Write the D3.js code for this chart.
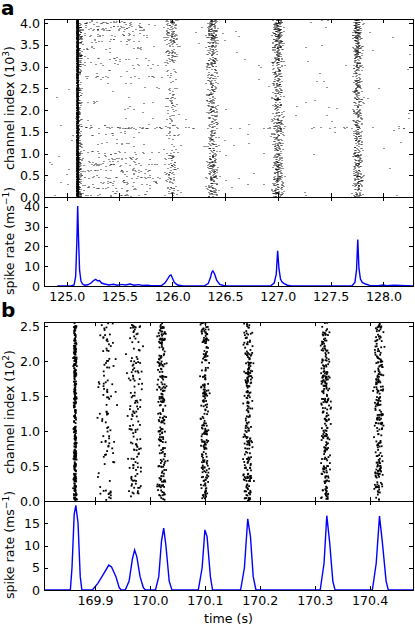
<!DOCTYPE html>
<html lang="en">
<head>
<meta charset="UTF-8"/>
<title>Spike raster and rate</title>
<script src="https://d3js.org/d3.v7.min.js"></script>
<style>
  body { margin: 0; background: #fff; }
  text { font-family: "DejaVu Sans", sans-serif; }
  .frame { fill: none; stroke: #000; stroke-width: 1; shape-rendering: crispEdges; }
  .tick line { shape-rendering: crispEdges; }
  path.rate { fill: none; stroke: #0000ff; stroke-width: 1.4; }
</style>
</head>
<body>
<script>
// ---------- panel a: population bursts (times in s, channels in 10^3) ----------
var burstTimesA  = [125.104, 125.125, 125.992, 126.38, 127.0, 127.757];
var burstSpreadA = [0.004, 0.012, 0.028, 0.026, 0.024, 0.022];
// spikes per channel band (8 bands of 0.512 x10^3, bottom to top), read by eye
var burstBandsA = [
  [300, 300, 220, 220, 200, 200, 260, 300],
  [50, 50, 25, 25, 25, 25, 35, 45],
  [35, 45, 15, 20, 30, 12, 50, 85],
  [80, 80, 55, 55, 60, 55, 80, 110],
  [95, 90, 70, 70, 70, 70, 100, 130],
  [85, 80, 65, 65, 65, 65, 90, 115]
];
// sparse activity after the first burst
var diffuseWindowA = [125.14, 125.8];
var diffuseBandsA = [45, 50, 10, 8, 6, 6, 20, 50];
// channels firing repeatedly: [channel (10^3), t start, t end, spikes]
var tonicRowsA = [
  [4.02, 125.15, 125.75, 18], [3.93, 125.2, 125.7, 12], [3.85, 125.15, 125.8, 15],
  [3.72, 125.15, 125.6, 10], [3.62, 125.2, 125.7, 8], [3.43, 125.15, 125.8, 10],
  [3.20, 125.15, 125.5, 6], [3.05, 125.15, 125.9, 12], [2.77, 125.15, 126.0, 16],
  [2.20, 125.2, 125.4, 4], [1.60, 125.15, 126.05, 40], [1.60, 126.1, 128.2, 25],
  [1.47, 125.2, 125.6, 6], [1.24, 125.2, 125.8, 8], [1.04, 125.15, 125.9, 12],
  [0.90, 125.3, 125.7, 8], [0.75, 125.15, 125.9, 16], [0.62, 125.15, 125.9, 18],
  [0.45, 125.2, 125.9, 16], [0.35, 125.2, 125.9, 14], [0.22, 125.2, 125.8, 12],
  [0.05, 125.2, 125.6, 8]
];
var backgroundCountA = 150;

// ---------- panel a: spike rate (ms^-1) ----------
var rateA = [
  [124.91, 0], [125.04, 0], [125.07, 0.5], [125.085, 5], [125.096, 22], [125.104, 40.5],
  [125.112, 24], [125.122, 8], [125.135, 2.5], [125.15, 1], [125.17, 0.4], [125.2, 0.6],
  [125.23, 1.5], [125.255, 2.8], [125.275, 3.4], [125.29, 2.6], [125.31, 2.8], [125.33, 1.5],
  [125.36, 1.0], [125.4, 0.5], [125.44, 0.9], [125.48, 0.4], [125.52, 0.8], [125.56, 0.5],
  [125.6, 1.0], [125.64, 0.4], [125.68, 0.7], [125.72, 0.3], [125.76, 0.4], [125.8, 0.2],
  [125.85, 0.1], [125.9, 0.3], [125.93, 1.5], [125.955, 3.5], [125.975, 5.2], [125.988, 5.6],
  [126.0, 4.2], [126.02, 1.8], [126.05, 0.5], [126.1, 0], [126.3, 0], [126.34, 1.2],
  [126.36, 4.0], [126.375, 7.0], [126.385, 7.6], [126.4, 6.2], [126.42, 3.0], [126.45, 0.8],
  [126.5, 0], [126.93, 0], [126.965, 1.5], [126.985, 6], [126.998, 17.8], [127.01, 9],
  [127.025, 3.5], [127.04, 2.0], [127.06, 1.2], [127.09, 0.4], [127.13, 0], [127.7, 0],
  [127.73, 1.8], [127.745, 8], [127.757, 23.5], [127.768, 9], [127.782, 3.5], [127.8, 1.8],
  [127.83, 1.0], [127.87, 0.3], [127.95, 0.2], [128.0, 0.5], [128.03, 0.1], [128.1, 0.4],
  [128.28, 0]
];

// ---------- panel b: bursts (channels in 10^2) ----------
var burstTimesB  = [169.8636, 169.9218, 169.9727, 170.0218, 170.1, 170.1782, 170.32, 170.4164];
var burstSpreadB = [0.0014, 0.0075, 0.006, 0.0038, 0.0036, 0.004, 0.004, 0.004];
var burstCountB  = [320, 100, 140, 220, 220, 230, 230, 230];

// ---------- panel b: spike rate ----------
var rateB = [
  [169.807, 0], [169.855, 0], [169.858, 5], [169.862, 17], [169.865, 19], [169.869, 15],
  [169.873, 3], [169.876, 0], [169.895, 0], [169.905, 1.5], [169.915, 3.5], [169.925, 5.6],
  [169.93, 5.2], [169.938, 3], [169.944, 0.5], [169.948, 0], [169.955, 0], [169.962, 2],
  [169.968, 7], [169.972, 9], [169.976, 7.5], [169.982, 3], [169.988, 0.5], [169.992, 0],
  [170.01, 0], [170.016, 3], [170.021, 11], [170.025, 13.9], [170.029, 10], [170.035, 2],
  [170.04, 0], [170.088, 0], [170.095, 5], [170.1, 13.5], [170.104, 12], [170.11, 3],
  [170.114, 0], [170.165, 0], [170.172, 5], [170.178, 16], [170.183, 12], [170.188, 3],
  [170.193, 0], [170.31, 0], [170.317, 6], [170.322, 16.7], [170.327, 11], [170.333, 2],
  [170.337, 0], [170.405, 0], [170.412, 6], [170.418, 16.6], [170.423, 11], [170.43, 2],
  [170.434, 0], [170.479, 0]
];

var xTicksA = [125.0, 125.5, 126.0, 126.5, 127.0, 127.5, 128.0];
var rasterTicksA = [0, 0.5, 1.0, 1.5, 2.0, 2.5, 3.0, 3.5, 4.0];
var rateTicksA = [0, 10, 20, 30, 40];
var xTicksB = [169.9, 170.0, 170.1, 170.2, 170.3, 170.4];
var rasterTicksB = [0, 0.5, 1.0, 1.5, 2.0, 2.5];
var rateTicksB = [0, 5, 10, 15];

// ---------- scales ----------
var xA = d3.scaleLinear().domain([124.785, 128.28]).range([44, 413]);
var yRasterA = d3.scaleLinear().domain([0, 4.096]).range([197, 19]);
var yRateA = d3.scaleLinear().domain([0, 45]).range([286, 197]);
var xB = d3.scaleLinear().domain([169.807, 170.479]).range([44, 413]);
var yRasterB = d3.scaleLinear().domain([0, 2.56]).range([501, 322]);
var yRateB = d3.scaleLinear().domain([0, 20]).range([590, 501]);

var svg = d3.select("body").append("svg")
    .attr("width", 415).attr("height", 626);

// fixed integer hash (murmur finaliser), only used to scatter the dots
// inside the bands that were read off the picture; same output every run
var seq = 1;
function hash(i, d) {
    var h = (Math.imul(i, 0x9E3779B1) + Math.imul(d + 1, 0x632BE5AB)) | 0;
    h ^= h >>> 16; h = Math.imul(h, 0x85ebca6b);
    h ^= h >>> 13; h = Math.imul(h, 0xc2b2ae35);
    h ^= h >>> 16;
    return (h >>> 0) / 4294967296;
}
function next() {
    var i = seq++;
    return {
        u: hash(i, 1),
        g: (hash(i, 2) + hash(i, 3) + hash(i, 4) - 1.5) * 2,
        w: hash(i, 5)
    };
}

// build spike lists
var spikesA = [];
burstTimesA.forEach(function (t0, k) {
    burstBandsA[k].forEach(function (n, j) {
        for (var s = 0; s < n; s++) {
            var h = next();
            spikesA.push([t0 + burstSpreadA[k] * h.g, (j + h.u) * 0.512]);
        }
    });
});
diffuseBandsA.forEach(function (n, j) {
    for (var s = 0; s < n; s++) {
        var h = next();
        spikesA.push([diffuseWindowA[0] + h.w * (diffuseWindowA[1] - diffuseWindowA[0]), (j + h.u) * 0.512]);
    }
});
tonicRowsA.forEach(function (r) {
    for (var s = 0; s < r[3]; s++) {
        var h = next();
        spikesA.push([r[1] + h.w * (r[2] - r[1]), r[0] + 0.012 * h.g]);
    }
});
for (var s = 0; s < backgroundCountA; s++) {
    var h = next();
    spikesA.push([124.79 + h.w * 3.48, h.u * 4.09]);
}

var spikesB = [];
burstTimesB.forEach(function (t0, k) {
    for (var s = 0; s < burstCountB[k]; s++) {
        var h = next();
        spikesB.push([t0 + burstSpreadB[k] * h.g, h.u * 2.55]);
    }
});

// ---------- drawing helpers ----------
function frame(x, y, xt, yt, xfmt, yfmt) {
    var g = svg.append("g");
    var xr = x.range(), yr = y.range();
    var bottom = g.append("g").attr("transform", "translate(0," + yr[0] + ")")
        .call(d3.axisBottom(x).tickValues(xt).tickSizeInner(-4).tickSizeOuter(0)
            .tickPadding(6).tickFormat(xfmt || ""));
    var top = g.append("g").attr("transform", "translate(0," + yr[1] + ")")
        .call(d3.axisTop(x).tickValues(xt).tickSizeInner(-4).tickSizeOuter(0).tickFormat(""));
    var left = g.append("g").attr("transform", "translate(" + xr[0] + ",0)")
        .call(d3.axisLeft(y).tickValues(yt).tickSizeInner(-4).tickSizeOuter(0)
            .tickPadding(4).tickFormat(yfmt));
    var right = g.append("g").attr("transform", "translate(" + xr[1] + ",0)")
        .call(d3.axisRight(y).tickValues(yt).tickSizeInner(-4).tickSizeOuter(0).tickFormat(""));
    [bottom, top, left, right].forEach(function (a) {
        a.attr("font-size", 12.6).attr("font-family", "DejaVu Sans");
        a.select(".domain").remove();
        a.selectAll("text").attr("fill", "#000");
    });
    g.append("rect").attr("class", "frame")
        .attr("x", xr[0] + 0.5).attr("y", yr[1] + 0.5)
        .attr("width", xr[1] - xr[0]).attr("height", yr[0] - yr[1]);
}

function clip(id, x, y) {
    svg.append("clipPath").attr("id", id).append("rect")
        .attr("x", x.range()[0]).attr("y", y.range()[1])
        .attr("width", x.range()[1] - x.range()[0]).attr("height", y.range()[0] - y.range()[1]);
}

function yLabel(text, sup, cy) {
    var t = svg.append("text")
        .attr("transform", "translate(14," + cy + ") rotate(-90)")
        .attr("text-anchor", "middle").attr("font-size", 12.6);
    t.append("tspan").text(text);
    t.append("tspan").attr("dy", -5).attr("font-size", 9).text(sup);
    t.append("tspan").attr("dy", 5).text(")");
}

var f1 = d3.format(".1f"), f0 = d3.format("d");
var line = function (x, y) {
    return d3.line().x(function (d) { return x(d[0]); }).y(function (d) { return y(d[1]); });
};

// ---------- panel a ----------
clip("ca1", xA, yRasterA);
svg.append("g").attr("clip-path", "url(#ca1)")
    .selectAll("rect").data(spikesA).enter().append("rect")
    .attr("x", function (d) { return Math.round(xA(d[0])) - 1; })
    .attr("y", function (d) { return Math.round(yRasterA(d[1])); })
    .attr("width", 2).attr("height", 1)
    .attr("fill", "#000").attr("fill-opacity", 0.42);
frame(xA, yRasterA, xTicksA, rasterTicksA, null, f1);

clip("ca2", xA, yRateA);
svg.append("path").attr("class", "rate").attr("clip-path", "url(#ca2)")
    .attr("d", line(xA, yRateA)(rateA));
frame(xA, yRateA, xTicksA, rateTicksA, f1, f0);

// ---------- panel b ----------
clip("cb1", xB, yRasterB);
svg.append("g").attr("clip-path", "url(#cb1)")
    .selectAll("rect").data(spikesB).enter().append("rect")
    .attr("x", function (d) { return xB(d[0]) - 0.9; })
    .attr("y", function (d) { return yRasterB(d[1]) - 0.9; })
    .attr("width", 1.8).attr("height", 1.8)
    .attr("fill", "#000");
frame(xB, yRasterB, xTicksB, rasterTicksB, null, f1);

clip("cb2", xB, yRateB);
svg.append("path").attr("class", "rate").attr("clip-path", "url(#cb2)")
    .attr("d", line(xB, yRateB)(rateB));
frame(xB, yRateB, xTicksB, rateTicksB, f1, f0);

// ---------- labels ----------
yLabel("channel index (10", "3", 108);
yLabel("spike rate (ms", "\u22121", 241);
yLabel("channel index (10", "2", 412);
yLabel("spike rate (ms", "\u22121", 545);

svg.append("text").attr("x", 228.5).attr("y", 623).attr("text-anchor", "middle")
    .attr("font-size", 12.6).text("time (s)");
svg.append("text").attr("x", 1).attr("y", 15).attr("font-size", 20)
    .attr("font-weight", "bold").text("a");
svg.append("text").attr("x", 1).attr("y", 317).attr("font-size", 20)
    .attr("font-weight", "bold").text("b");
</script>
</body>
</html>
